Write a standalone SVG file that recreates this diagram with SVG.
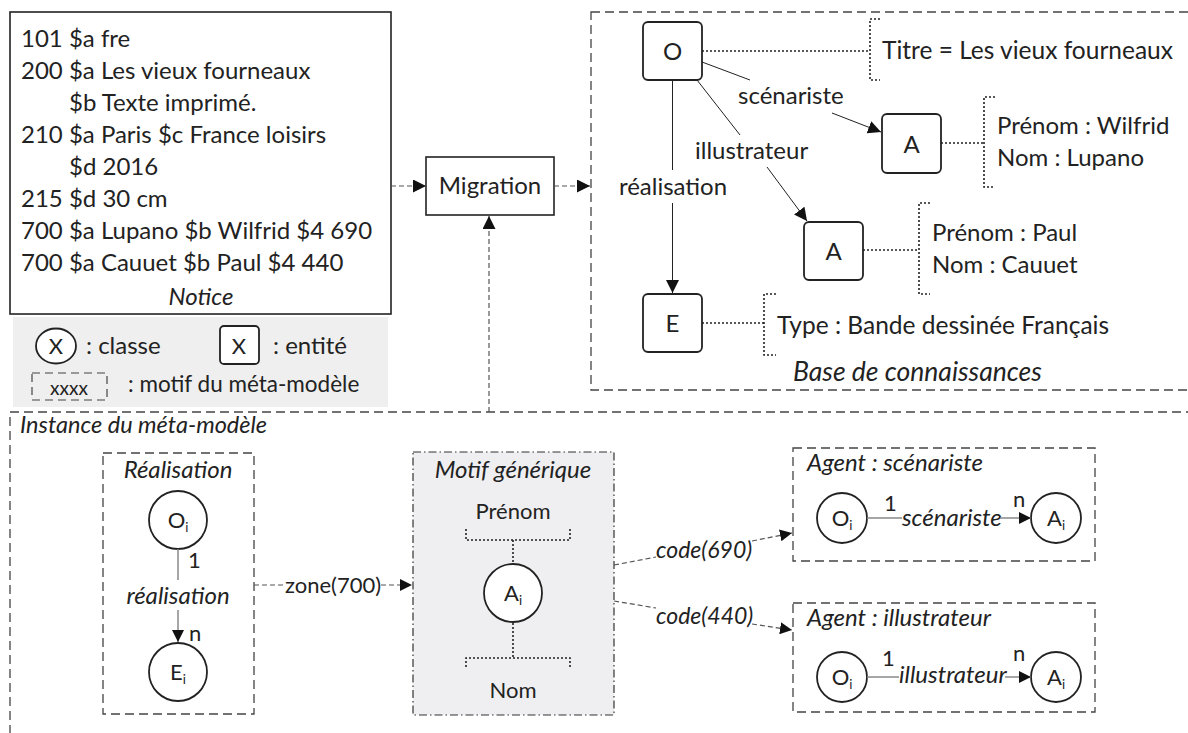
<svg xmlns="http://www.w3.org/2000/svg" width="1188" height="733" viewBox="0 0 1188 733">
  <defs>
    <marker id="arr" viewBox="0 0 10 10" refX="10" refY="5" markerWidth="13" markerHeight="13" markerUnits="userSpaceOnUse" orient="auto">
      <path d="M0,0 L10,5 L0,10 z" fill="#111"/>
    </marker>
    <marker id="arrS" viewBox="0 0 10 10" refX="10" refY="5" markerWidth="12" markerHeight="12" markerUnits="userSpaceOnUse" orient="auto">
      <path d="M0,0 L10,5 L0,10 z" fill="#111"/>
    </marker>
    <style>
      text { font-family: "Lato", "Open Sans", "Liberation Sans", sans-serif; fill: #222; }
      .t { font-size: 24px; }
      .m { font-size: 22px; }
      .it { font-style: italic; }
      .sub { font-size: 13px; }
      .frame { fill: none; stroke: #444; stroke-width: 1.3; stroke-dasharray: 9 5; }
      .dash { fill: none; stroke: #555; stroke-width: 1.2; stroke-dasharray: 5 3; }
      .dot { fill: none; stroke: #222; stroke-width: 1.6; stroke-dasharray: 2 2; }
      .solid { fill: none; stroke: #222; stroke-width: 1; }
      .grey { fill: none; stroke: #888; stroke-width: 1.5; }
      .ent { fill: #fff; stroke: #222; stroke-width: 1.8; }
      .cls { fill: #fff; stroke: #222; stroke-width: 1.8; }
      .c { text-anchor: middle; }
    </style>
  </defs>

  <!-- outer frames -->
  <rect id="base-frame" x="591" y="12" width="620" height="378" class="frame"/>
  <rect id="instance-frame" x="10" y="412" width="1200" height="340" class="frame"/>

  <!-- legend -->
  <g id="legend">
    <rect x="13" y="317" width="375" height="90" fill="#efefef"/>
    <ellipse cx="56" cy="346" rx="20" ry="17.5" class="cls"/>
    <text x="56" y="354" class="m c">X</text>
    <text x="86" y="354" class="t">: classe</text>
    <rect x="220" y="326" width="39" height="38" rx="4" class="ent"/>
    <text x="239" y="354" class="m c">X</text>
    <text x="273" y="354" class="t">: entité</text>
    <rect x="32" y="373" width="75" height="27" fill="none" stroke="#444" stroke-width="1.2" stroke-dasharray="8 5"/>
    <text x="69" y="395" class="c" style="font-size:19px">xxxx</text>
    <text x="128" y="392" style="font-size:22.5px">: motif du méta-modèle</text>
  </g>

  <!-- record -->
  <g id="notice">
    <rect x="10" y="12" width="381" height="302" fill="#fff" stroke="#222" stroke-width="1.6"/>
    <text class="t" x="21" y="47">101 $a fre</text>
    <text class="t" x="21" y="79">200 $a Les vieux fourneaux</text>
    <text class="t" x="69" y="111">$b Texte imprimé.</text>
    <text class="t" x="21" y="143">210 $a Paris $c France loisirs</text>
    <text class="t" x="69" y="175">$d 2016</text>
    <text class="t" x="21" y="207">215 $d 30 cm</text>
    <text class="t" x="21" y="239">700 $a Lupano $b Wilfrid $4 690</text>
    <text class="t" x="21" y="271">700 $a Cauuet $b Paul $4 440</text>
    <text class="t it c" x="201" y="305">Notice</text>
  </g>

  <g id="migration">
    <rect x="426" y="157" width="128" height="58" fill="#fff" stroke="#222" stroke-width="1.6"/>
    <text class="t c" x="490" y="194">Migration</text>
  </g>

  <!-- knowledge base entities -->
  <g id="kb-O">
    <rect x="643" y="22" width="59" height="58" rx="5" class="ent"/>
    <text class="t c" x="672.5" y="60">O</text>
  </g>
  <g id="kb-E">
    <rect x="643" y="294" width="59" height="58" rx="5" class="ent"/>
    <text class="t c" x="672.5" y="332">E</text>
  </g>
  <g id="kb-A1">
    <rect x="882" y="114" width="59" height="59" rx="5" class="ent"/>
    <text class="t c" x="911.5" y="153">A</text>
  </g>
  <g id="kb-A2">
    <rect x="804" y="222" width="59" height="58" rx="5" class="ent"/>
    <text class="t c" x="833.5" y="260">A</text>
  </g>

  <!-- attribute brackets -->
  <g id="attr-titre">
    <path d="M880,19 H870 V80 H880" class="dot"/>
    <text x="882" y="59" style="font-size:24.5px">Titre = Les vieux fourneaux</text>
  </g>
  <g id="attr-A1">
    <path d="M995,97 H984 V187 H995" class="dot"/>
    <text class="t" x="997" y="134">Prénom : Wilfrid</text>
    <text class="t" x="997" y="166">Nom : Lupano</text>
  </g>
  <g id="attr-A2">
    <path d="M930,203 H919 V294 H930" class="dot"/>
    <text class="t" x="932" y="241">Prénom : Paul</text>
    <text class="t" x="932" y="273">Nom : Cauuet</text>
  </g>
  <g id="attr-E">
    <path d="M776,294 H764 V355 H776" class="dot"/>
    <text x="777" y="334" style="font-size:24.5px">Type : Bande dessinée Français</text>
  </g>

  <text class="it" x="793" y="381" style="font-size:26.5px">Base de connaissances</text>

  <!-- relation labels in the knowledge base -->
  <text class="t c" x="673" y="195">réalisation</text>
  <text class="t" x="738" y="104">scénariste</text>
  <text class="t" x="695" y="159">illustrateur</text>

  <!-- meta-model instance -->
  <text class="it" x="20" y="433" style="font-size:23.5px">Instance du méta-modèle</text>

  <g id="realisation">
    <rect x="103" y="453" width="151" height="261" class="frame"/>
    <text class="t it c" x="178" y="478">Réalisation</text>
    <circle cx="178" cy="520" r="29" class="cls"/>
    <text class="m c" x="178" y="528">O<tspan class="sub" dy="4">i</tspan></text>
    <circle cx="178" cy="672" r="29" class="cls"/>
    <text class="m c" x="178" y="680">E<tspan class="sub" dy="4">i</tspan></text>
    <text class="m" x="188" y="568">1</text>
    <text class="t it c" x="178" y="604">réalisation</text>
    <text class="m" x="189" y="641">n</text>
  </g>

  <g id="motif">
    <rect x="413" y="452" width="201" height="263" fill="#efeff1" stroke="#333" stroke-width="1.2" stroke-dasharray="8 3 1.5 3"/>
    <text class="t it c" x="513" y="478">Motif générique</text>
    <text class="m c" x="513" y="519">Prénom</text>
    <path d="M466,529 V540 H570 V529" class="dot"/>
    <path d="M513,540 V563" class="dot"/>
    <circle cx="513" cy="593" r="29" class="cls"/>
    <text class="m c" x="513" y="601">A<tspan class="sub" dy="4">i</tspan></text>
    <path d="M513,623 V658" class="dot"/>
    <path d="M466,667 V658 H570 V667" class="dot"/>
    <text class="m c" x="513" y="698">Nom</text>
  </g>

  <g id="agent-scenariste">
    <rect x="793" y="448" width="302" height="113" class="frame"/>
    <text class="t it" x="807" y="471">Agent : scénariste</text>
    <circle cx="842" cy="518" r="25" class="cls"/>
    <text class="m c" x="842" y="526">O<tspan class="sub" dy="4">i</tspan></text>
    <circle cx="1056" cy="518" r="25" class="cls"/>
    <text class="m c" x="1056" y="526">A<tspan class="sub" dy="4">i</tspan></text>
    <text class="m" x="884" y="511">1</text>
    <text class="m" x="1013" y="507">n</text>
    <text class="t it" x="902" y="526">scénariste</text>
  </g>

  <g id="agent-illustrateur">
    <rect x="793" y="603" width="302" height="109" class="frame"/>
    <text class="t it" x="807" y="626">Agent : illustrateur</text>
    <circle cx="842" cy="677" r="25" class="cls"/>
    <text class="m c" x="842" y="685">O<tspan class="sub" dy="4">i</tspan></text>
    <circle cx="1056" cy="677" r="25" class="cls"/>
    <text class="m c" x="1056" y="685">A<tspan class="sub" dy="4">i</tspan></text>
    <text class="m" x="882" y="666">1</text>
    <text class="m" x="1013" y="661">n</text>
    <text class="t it" x="899" y="683">illustrateur</text>
  </g>

  <!-- connectors -->
  <g id="connectors">
    <line x1="391" y1="186" x2="426" y2="186" class="dash" marker-end="url(#arr)"/>
    <line x1="554" y1="186" x2="590" y2="186" class="dash" marker-end="url(#arr)"/>
    <line x1="489" y1="412" x2="489" y2="216" class="dash" marker-end="url(#arr)"/>

    <line x1="672.5" y1="80" x2="672.5" y2="170" class="solid"/>
    <line x1="672.5" y1="203" x2="672.5" y2="293" class="solid" marker-end="url(#arr)"/>

    <line x1="702" y1="62" x2="750" y2="80" class="solid"/>
    <line x1="832" y1="113" x2="881" y2="132" class="solid" marker-end="url(#arr)"/>

    <line x1="697" y1="80" x2="740" y2="135" class="solid"/>
    <line x1="767" y1="167" x2="807" y2="221" class="solid" marker-end="url(#arr)"/>

    <line x1="702" y1="51" x2="870" y2="51" class="dot"/>
    <line x1="863" y1="250" x2="919" y2="250" class="dot"/>
    <line x1="941" y1="143" x2="984" y2="143" class="dot"/>
    <line x1="702" y1="323" x2="764" y2="323" class="dot"/>

    <line x1="178" y1="549" x2="178" y2="580" class="grey"/>
    <line x1="178" y1="610" x2="178" y2="642" class="grey" marker-end="url(#arrS)"/>

    <line x1="254" y1="585" x2="284" y2="585" class="dash"/>
    <text class="m" x="285" y="593">zone(700)</text>
    <line x1="381" y1="585" x2="412" y2="585" class="dash" marker-end="url(#arrS)"/>

    <line x1="614" y1="565" x2="656" y2="557" class="dash"/>
    <text class="it" x="656" y="558" style="font-size:23px">code(690)</text>
    <line x1="752" y1="541" x2="792" y2="533" class="dash" marker-end="url(#arrS)"/>

    <line x1="614" y1="601" x2="656" y2="608" class="dash"/>
    <text class="it" x="656" y="624" style="font-size:23px">code(440)</text>
    <line x1="752" y1="624" x2="792" y2="630" class="dash" marker-end="url(#arrS)"/>

    <line x1="867" y1="518" x2="902" y2="518" class="grey"/>
    <line x1="1000" y1="518" x2="1031" y2="518" class="grey" marker-end="url(#arrS)"/>
    <line x1="867" y1="677" x2="899" y2="677" class="grey"/>
    <line x1="1005" y1="677" x2="1031" y2="677" class="grey" marker-end="url(#arrS)"/>
  </g>
</svg>
